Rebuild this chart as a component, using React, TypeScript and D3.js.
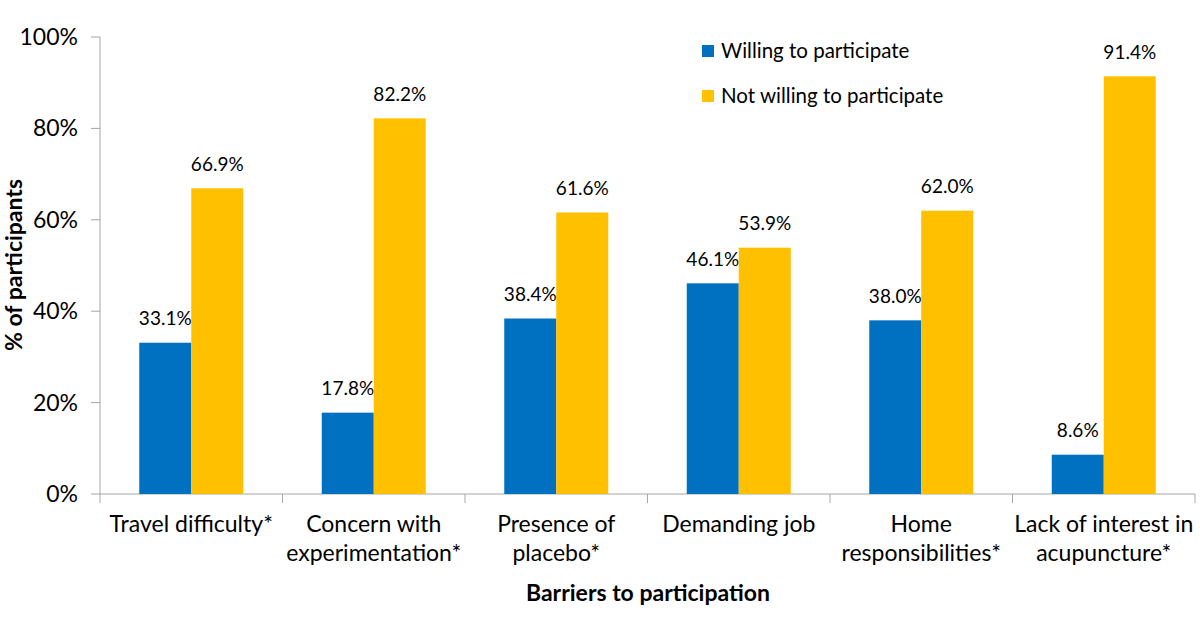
import React from 'react';
import * as d3 from 'd3';

const categories = [
  ['Travel difficulty*'],
  ['Concern with', 'experimentation*'],
  ['Presence of', 'placebo*'],
  ['Demanding job'],
  ['Home', 'responsibilities*'],
  ['Lack of interest in', 'acupuncture*'],
];
const seriesNames = ['Willing to participate', 'Not willing to participate'];
const willing = [33.1, 17.8, 38.4, 46.1, 38.0, 8.6];
const notWilling = [66.9, 82.2, 61.6, 53.9, 62.0, 91.4];
const yTicks = [0, 20, 40, 60, 80, 100];
const colors = ['#0070C0', '#FFC000'];

const font = 'Lato, "Open Sans", sans-serif';

export default function App() {
  const W = 1200;
  const H = 620;
  const left = 100;
  const right = 1195;
  const top = 37;
  const bottom = 494;

  const x = d3.scaleBand<number>().domain(d3.range(categories.length)).range([left, right]);
  const inner = d3.scaleBand<number>().domain([0, 1]).range([0, 104]);
  const y = d3.scaleLinear().domain([0, 100]).range([bottom, top]);
  const series = [willing, notWilling];
  const axisColor = '#a6a6a6';

  return (
    <svg width={W} height={H} style={{ display: 'block', position: 'absolute', left: 0, top: 0 }} fontFamily={font}>
      <rect width={W} height={H} fill="#fff" />
      {/* y axis */}
      <line x1={left} x2={left} y1={top} y2={bottom} stroke={axisColor} strokeWidth={1} />
      {yTicks.map((t) => (
        <g key={t}>
          <line x1={left - 9} x2={left} y1={y(t)} y2={y(t)} stroke={axisColor} />
          <text x={78} y={y(t)} dy="0.35em" textAnchor="end" fontSize={23} fill="#000">
            {t}%
          </text>
        </g>
      ))}
      {/* x axis */}
      <line x1={left} x2={right} y1={bottom} y2={bottom} stroke={axisColor} />
      {d3.range(categories.length + 1).map((i) => {
        const xx = i < categories.length ? x(i)! : right;
        return <line key={i} x1={xx} x2={xx} y1={bottom} y2={bottom + 9} stroke={axisColor} />;
      })}
      {categories.map((lines, i) => (
        <text key={i} x={x(i)! + x.bandwidth() / 2} y={524} textAnchor="middle" fontSize={23} fill="#000">
          {lines.map((l, j) => (
            <tspan key={j} x={x(i)! + x.bandwidth() / 2} dy={j === 0 ? '0.35em' : 29}>
              {l}
            </tspan>
          ))}
        </text>
      ))}
      {/* bars */}
      {series.map((vals, s) =>
        vals.map((v, i) => {
          const bx = x(i)! + (x.bandwidth() - 104) / 2 + inner(s)!;
          return (
            <g key={`${s}-${i}`}>
              <rect x={bx} y={y(v)} width={inner.bandwidth()} height={bottom - y(v)} fill={colors[s]} />
              <text x={bx + inner.bandwidth() / 2} y={y(v) - 24} dy="0.35em" textAnchor="middle" fontSize={19} fill="#000">
                {v.toFixed(1)}%
              </text>
            </g>
          );
        })
      )}
      {/* axis titles */}
      <text x={648} y={593} dy="0.35em" textAnchor="middle" fontSize={23} fontWeight="bold" fill="#000">
        Barriers to participation
      </text>
      <text transform={`translate(14,265) rotate(-90)`} dy="0.35em" textAnchor="middle" fontSize={23} fontWeight="bold" fill="#000">
        % of participants
      </text>
      {/* legend */}
      {seriesNames.map((n, i) => (
        <g key={n} transform={`translate(702,${51 + i * 45})`}>
          <rect x={0} y={-6} width={12} height={12} fill={colors[i]} />
          <text x={19} y={0} dy="0.35em" fontSize={20.5} fill="#000">
            {n}
          </text>
        </g>
      ))}
    </svg>
  );
}
